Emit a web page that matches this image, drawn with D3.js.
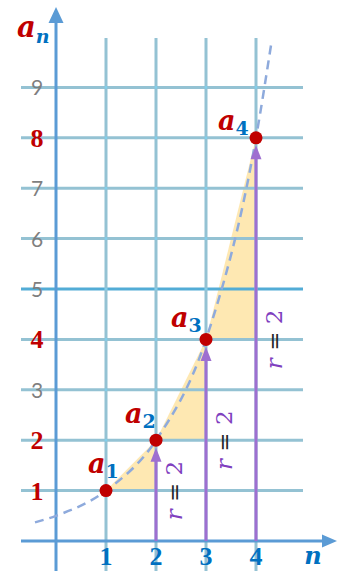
<!DOCTYPE html>
<html><head><meta charset="utf-8">
<script src="https://cdn.jsdelivr.net/npm/d3@7"></script>
<style>html,body{margin:0;padding:0;background:#fff;}svg{display:block;}</style>
</head><body>
<script>
// ---- data ----
const nValues = [1, 2, 3, 4];
const aValues = [1, 2, 4, 8];
const ratioLabel = ["r", " = ", "2"];
const xTicks = [1, 2, 3, 4];
const yTicks = [1, 2, 3, 4, 5, 6, 7, 8, 9];
const yHighlighted = [1, 2, 4, 8];
// dashed curve through the terms
const curveN = [-0.42, 0, 1, 2, 3, 4, 4.31];
const curveA = [0.37, 0.5, 1, 2, 4, 8, 9.9];

// ---- layout ----
const W = 342, H = 571;
const x = d3.scaleLinear().domain([0, 4]).range([56, 256]);
const y = d3.scaleLinear().domain([0, 9]).range([541, 87.4]);
const gridLeft = 21, gridRight = 303, gridTop = 38;

const svg = d3.select("body").append("svg").attr("width", W).attr("height", H);

// triangles (under grid)
const tri = svg.append("g");
for (let i = 0; i < nValues.length - 1; i++) {
  const p = [[x(nValues[i]), y(aValues[i])], [x(nValues[i + 1]), y(aValues[i])], [x(nValues[i + 1]), y(aValues[i + 1])]];
  tri.append("path").attr("d", "M" + p.join("L") + "Z").attr("fill", "#fee8b2");
}

// grid
const grid = svg.append("g");
yTicks.forEach(v => {
  grid.append("line").attr("x1", gridLeft).attr("x2", gridRight).attr("y1", y(v)).attr("y2", y(v))
    .attr("stroke", v === 5 ? "#52acd6" : "#94c2d3").attr("stroke-width", 3);
});
xTicks.forEach(v => {
  grid.append("line").attr("x1", x(v)).attr("x2", x(v)).attr("y1", gridTop).attr("y2", H)
    .attr("stroke", "#94c2d3").attr("stroke-width", 3);
});
xTicks.forEach(xv => yTicks.forEach(yv => {
  grid.append("circle").attr("cx", x(xv)).attr("cy", y(yv)).attr("r", 1.3).attr("fill", "#7fd0ee");
}));

// axes
const axisColor = "#5b9bd5";
svg.append("line").attr("x1", gridLeft).attr("x2", 326).attr("y1", y(0)).attr("y2", y(0))
  .attr("stroke", axisColor).attr("stroke-width", 3);
svg.append("path").attr("d", `M337,${y(0)}L322,${y(0) - 6.5}L322,${y(0) + 6.5}Z`).attr("fill", axisColor);
svg.append("line").attr("x1", x(0)).attr("x2", x(0)).attr("y1", H).attr("y2", 20)
  .attr("stroke", axisColor).attr("stroke-width", 3);
svg.append("path").attr("d", `M${x(0)},7L${x(0) - 7.5},23L${x(0) + 7.5},23Z`).attr("fill", axisColor);

// dashed curve
const line = d3.line().x(d => x(d[0])).y(d => y(d[1])).curve(d3.curveMonotoneX);
svg.append("path").attr("d", line(curveN.map((n, i) => [n, curveA[i]])))
  .attr("fill", "none").attr("stroke", "#8eaadc").attr("stroke-width", 2.5).attr("stroke-dasharray", "9,6");

// purple arrows
const purple = "#9e6fd0";
const R = 6.5;
for (let i = 1; i < nValues.length; i++) {
  const cx = x(nValues[i]), top = y(aValues[i]) + R + 1;
  svg.append("line").attr("x1", cx).attr("x2", cx).attr("y1", y(0)).attr("y2", top + 10)
    .attr("stroke", purple).attr("stroke-width", 3);
  svg.append("path").attr("d", `M${cx},${top}L${cx - 5.5},${top + 14}L${cx + 5.5},${top + 14}Z`).attr("fill", purple);
  // r = 2 label
  const ly = (y(0) + y(aValues[i])) / 2;
  const t = svg.append("text").attr("transform", `translate(${cx + 18},${ly}) rotate(-90)`)
    .attr("text-anchor", "middle").attr("dominant-baseline", "central")
    .attr("font-family", "DejaVu Serif").attr("font-size", 23).style("white-space", "pre");
  t.append("tspan").text(ratioLabel[0]).attr("font-style", "italic").attr("fill", "#7f3fbf");
  t.append("tspan").text(ratioLabel[1]).attr("fill", "#262626");
  t.append("tspan").text(ratioLabel[2]).attr("fill", "#7f3fbf");
}

// points
svg.append("g").selectAll("circle").data(nValues).join("circle")
  .attr("cx", d => x(d)).attr("cy", (d, i) => y(aValues[i])).attr("r", R).attr("fill", "#c00000");

// point labels
const labelDx = [-18, -31, -35, -38];
const labelDy = [-18, -17, -12, -8];
nValues.forEach((n, i) => {
  const t = svg.append("text").attr("x", x(n) + labelDx[i]).attr("y", y(aValues[i]) + labelDy[i])
    .attr("font-family", "DejaVu Serif").attr("font-weight", "bold");
  t.append("tspan").text("a").attr("font-style", "italic").attr("font-size", 27).attr("fill", "#c00000");
  t.append("tspan").text(n).attr("font-size", 19).attr("dy", 5).attr("fill", "#0070c0");
});

// y tick labels
yTicks.forEach(v => {
  const hl = yHighlighted.includes(v);
  svg.append("text").attr("x", 37).attr("y", y(v) + (hl ? 9 : 8)).attr("text-anchor", "middle")
    .attr("font-family", hl ? "Liberation Serif" : "Lato").attr("font-weight", hl ? "bold" : "normal")
    .attr("font-size", hl ? 26 : 21).attr("fill", hl ? "#c00000" : "#7f7f7f").text(v);
});
// x tick labels
xTicks.forEach(v => {
  svg.append("text").attr("x", x(v)).attr("y", 565).attr("text-anchor", "middle")
    .attr("font-family", "Liberation Serif").attr("font-weight", "bold").attr("font-size", 26)
    .attr("fill", "#0070c0").text(v);
});

// axis titles
svg.append("text").attr("x", 313).attr("y", 564).attr("text-anchor", "middle")
  .attr("font-family", "DejaVu Serif").attr("font-weight", "bold").attr("font-style", "italic")
  .attr("font-size", 24).attr("fill", "#0070c0").text("n");
const at = svg.append("text").attr("x", 17).attr("y", 37)
  .attr("font-family", "DejaVu Serif").attr("font-weight", "bold").attr("font-style", "italic");
at.append("tspan").text("a").attr("font-size", 29).attr("fill", "#c00000");
at.append("tspan").text("n").attr("font-size", 19).attr("dy", 6).attr("fill", "#0070c0");
</script>
</body></html>
